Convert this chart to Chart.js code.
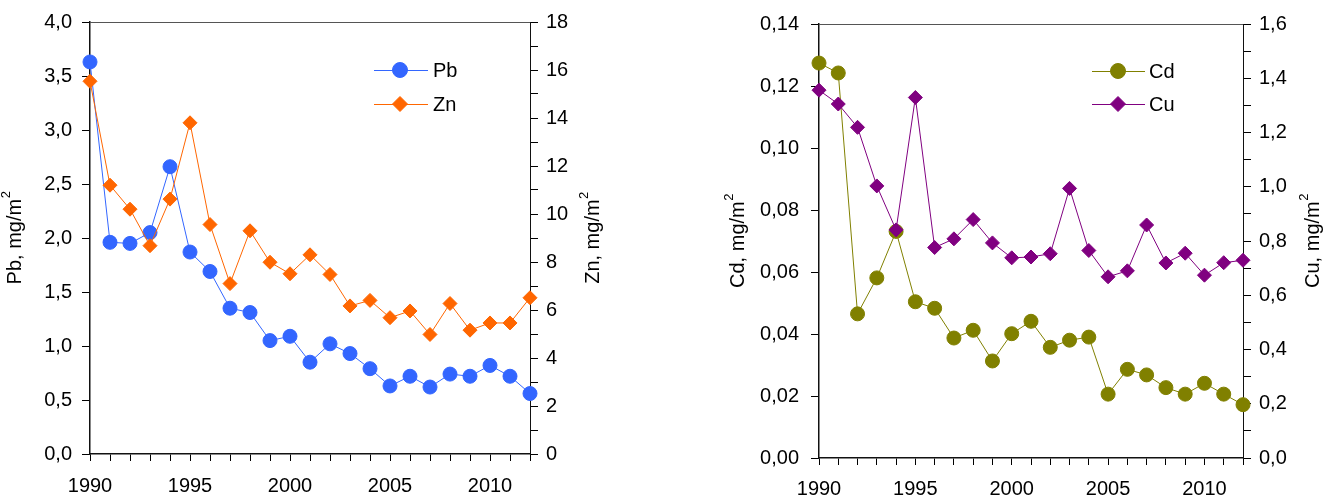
<!DOCTYPE html>
<html><head><meta charset="utf-8">
<script src="https://cdn.jsdelivr.net/npm/chart.js@4"></script>
<style>
html,body{margin:0;padding:0;background:#fff;}
#wrap{position:relative;width:1339px;height:501px;overflow:hidden;background:#fff;}
#c1{position:absolute;left:0;top:0;}
#c2{position:absolute;left:660px;top:0;}
</style></head><body>
<div id="wrap"><canvas id="c1" width="660" height="501"></canvas><canvas id="c2" width="679" height="501"></canvas></div>
<script>
// ---- data ----
const years = [1990,1991,1992,1993,1994,1995,1996,1997,1998,1999,2000,2001,2002,2003,2004,2005,2006,2007,2008,2009,2010,2011,2012];
const xTickLabels = [1990,1995,2000,2005,2010];
const pb = [3.63,1.96,1.95,2.05,2.66,1.87,1.69,1.35,1.31,1.05,1.09,0.85,1.02,0.93,0.79,0.63,0.72,0.62,0.74,0.72,0.82,0.72,0.56];
const zn = [15.53,11.2,10.2,8.68,10.62,13.8,9.56,7.1,9.3,7.99,7.51,8.3,7.48,6.17,6.4,5.68,5.96,4.98,6.27,5.16,5.46,5.46,6.51];
const cd = [0.1274,0.1242,0.0465,0.0581,0.0731,0.0504,0.0483,0.0387,0.0412,0.0313,0.0401,0.0441,0.0357,0.038,0.039,0.0206,0.0286,0.0268,0.0227,0.0206,0.0241,0.0206,0.0172];
const cu = [1.356,1.305,1.219,1.003,0.841,1.329,0.776,0.808,0.879,0.793,0.738,0.741,0.753,0.994,0.765,0.668,0.690,0.859,0.719,0.755,0.674,0.720,0.729];
const seriesNames = ['Pb','Zn','Cd','Cu'];
const axisTitles = ['Pb, mg/m','Zn, mg/m','Cd, mg/m','Cu, mg/m'];

const FONT = '"Liberation Sans", Arial, sans-serif';
Chart.defaults.font.family = FONT;
Chart.defaults.font.size = 20;
Chart.defaults.color = '#000';

const COLORS = {Pb:'#3366FF', Zn:'#FF6600', Cd:'#808000', Cu:'#800080'};

function pts(vals){ return years.map((y,i)=>({x:y, y:vals[i]})); }

function ds(name, vals, axis, style, order){
  const c = COLORS[name];
  return {label:name, data:pts(vals), yAxisID:axis, borderColor:c, backgroundColor:c,
    pointBackgroundColor:c, pointBorderColor:c, pointStyle:style,
    pointRadius:7, pointBorderWidth:1, borderWidth:1,
    tension:0, order:order, clip:false};
}

function drawMarker(ctx, style, x, y, r, c){
  ctx.fillStyle = c; ctx.strokeStyle = c; ctx.lineWidth = 1;
  ctx.beginPath();
  if (style==='circle'){ ctx.arc(x,y,r,0,Math.PI*2); }
  else { ctx.moveTo(x-r,y); ctx.lineTo(x,y-r); ctx.lineTo(x+r,y); ctx.lineTo(x,y+r); ctx.closePath(); }
  ctx.fill(); ctx.stroke();
}

function drawRotTitle(ctx, main, x, y){
  const f1 = '20px ' + FONT, f2 = '13px ' + FONT;
  ctx.save();
  ctx.translate(x,y); ctx.rotate(-Math.PI/2);
  ctx.font = f1; const w1 = ctx.measureText(main).width;
  ctx.font = f2; const w2 = ctx.measureText('2').width;
  const start = -(w1+w2)/2;
  ctx.fillStyle = '#000'; ctx.textBaseline = 'middle'; ctx.textAlign = 'left';
  ctx.font = f1; ctx.fillText(main, start, 0);
  ctx.font = f2; ctx.fillText('2', start + w1 + 0.5, -9);
  ctx.restore();
}

function decor(cfg){
  return {
    id:'decor',
    afterDraw(chart){
      const {ctx, chartArea:a} = chart;
      ctx.save();
      ctx.strokeStyle = '#555'; ctx.lineWidth = 1;
      ctx.beginPath(); ctx.moveTo(a.left, a.top+0.5); ctx.lineTo(a.right, a.top+0.5); ctx.stroke();
      const cy = (a.top + a.bottom)/2;
      drawRotTitle(ctx, cfg.titles[0], cfg.titleX[0], cy);
      drawRotTitle(ctx, cfg.titles[1], cfg.titleX[1], cy);
      const L = cfg.legend;
      L.items.forEach((it, i) => {
        const y = L.y[i];
        const c = COLORS[it.name];
        ctx.strokeStyle = c; ctx.lineWidth = 1;
        ctx.beginPath(); ctx.moveTo(L.x1, y+0.5); ctx.lineTo(L.x2, y+0.5); ctx.stroke();
        drawMarker(ctx, it.style, L.mx, y, 7.5, c);
        ctx.fillStyle = '#000'; ctx.font = '20px ' + FONT;
        ctx.textAlign = 'left'; ctx.textBaseline = 'middle';
        ctx.fillText(it.name, L.tx, y+1);
      });
      ctx.restore();
    }
  };
}

function xScale(h, pad){
  return {type:'linear', position:'bottom', min:1990, max:2012, offset:false,
    ticks:{stepSize:1, autoSkip:false, maxRotation:0, minRotation:0, padding:pad,
      callback:v => xTickLabels.includes(v) ? String(v) : ''},
    grid:{drawOnChartArea:false, tickLength:7, tickColor:'#000', tickWidth:1},
    border:{display:true, color:'#111', width:1.5},
    afterFit: s => { s.height = h; }};
}

function yScale(pos, min, max, step, fmt, width, pad, bw){
  return {type:'linear', position:pos, min:min, max:max,
    ticks:{stepSize:step, autoSkip:false, padding:pad, callback:fmt},
    grid:{drawOnChartArea:false, tickLength:8, tickColor:'#000', tickWidth:1},
    border:{display:true, color:'#111', width:bw},
    afterFit: s => { s.width = width; }};
}

const baseOpts = {responsive:false, animation:false, events:[],
  plugins:{legend:{display:false}, tooltip:{enabled:false}}};

new Chart(document.getElementById('c1'), {
  type:'line',
  data:{datasets:[ds('Pb', pb, 'y', 'circle', 1), ds('Zn', zn, 'y2', 'rectRot', 0)]},
  options:Object.assign({}, baseOpts, {
    layout:{padding:{top:20,left:0,right:0,bottom:0}},
    scales:{
      x: xScale(47, 13),
      y: yScale('left', 0, 4, 0.5, v => v.toFixed(1).replace('.', ','), 90, 10, 1.5),
      y2: yScale('right', 0, 18, 1, v => (Math.round(v)%2===0 ? String(Math.round(v)) : ''), 130, 8, 1)
    }
  }),
  plugins:[decor({titles:[axisTitles[0], axisTitles[1]], titleX:[15, 593],
    legend:{x1:374, x2:428, mx:400, tx:433, y:[70,104],
      items:[{name:seriesNames[0], style:'circle'},{name:seriesNames[1], style:'rectRot'}]}})]
});

new Chart(document.getElementById('c2'), {
  type:'line',
  data:{datasets:[ds('Cd', cd, 'y', 'circle', 1), ds('Cu', cu, 'y2', 'rectRot', 0)]},
  options:Object.assign({}, baseOpts, {
    layout:{padding:{top:20,left:0,right:0,bottom:0}},
    scales:{
      x: xScale(43, 12),
      y: yScale('left', 0, 0.14, 0.02, v => v.toFixed(2).replace('.', ','), 159, 12, 1.5),
      y2: yScale('right', 0, 1.6, 0.1, v => (Math.round(v*10)%2===0 ? v.toFixed(1).replace('.', ',') : ''), 96, 8, 1)
    }
  }),
  plugins:[decor({titles:[axisTitles[2], axisTitles[3]], titleX:[78, 653],
    legend:{x1:432, x2:485, mx:458, tx:489, y:[71,104],
      items:[{name:seriesNames[2], style:'circle'},{name:seriesNames[3], style:'rectRot'}]}})]
});
</script>
</body></html>
